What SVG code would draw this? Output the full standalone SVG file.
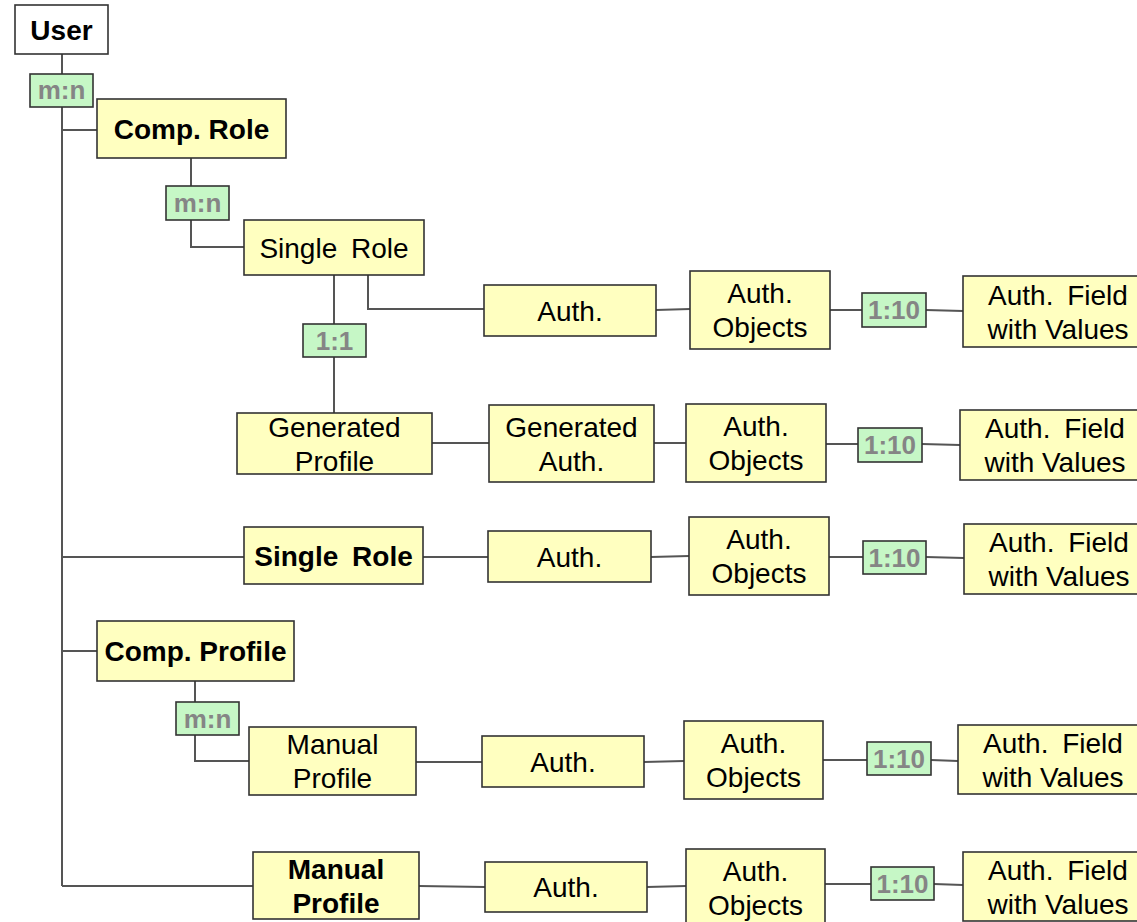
<svg xmlns="http://www.w3.org/2000/svg" width="1137" height="922" viewBox="0 0 1137 922">
  <style>
    .node { fill: #ffffc0; stroke: #333333; stroke-width: 1.6; }
    .root { fill: #ffffff; stroke: #333333; stroke-width: 1.6; }
    .rel { fill: #c6f7c6; stroke: #333333; stroke-width: 1.6; }
    .t { font-family: "Liberation Sans", Arial, sans-serif; font-size: 28px; fill: #000000; text-anchor: middle; }
    .b { font-weight: bold; }
    .wide { word-spacing: 6px; }
    .rt { font-family: "Liberation Sans", Arial, sans-serif; font-size: 26px; font-weight: bold; fill: #858585; text-anchor: middle; }
    .link { fill: none; stroke: #555555; stroke-width: 2; }
  </style>

  <!-- connectors -->
  <g id="connectors">
    <path class="link" d="M62,54 V74 M62,107 V886"/>
    <path class="link" d="M62,130 H97"/>
    <path class="link" d="M62,557 H244"/>
    <path class="link" d="M62,651 H97"/>
    <path class="link" d="M62,886 H253"/>
    <path class="link" d="M191,158 V186 M191,220 V247 H244"/>
    <path class="link" d="M334,275 V324 M334,357 V413"/>
    <path class="link" d="M368,275 V309 H484"/>
    <path class="link" d="M656,310 L690,309 M830,310 H862 M926,310 L963,311"/>
    <path class="link" d="M432,443 H489 M654,443 H686 M826,444 H858 M922,444 L960,445"/>
    <path class="link" d="M423,557 H488 M651,557 L689,556 M829,557 H863 M926,557 L964,558"/>
    <path class="link" d="M195,681 V702 M195,735 V761 H249"/>
    <path class="link" d="M416,762 H482 M644,762 L684,761 M823,760 H867 M931,760 L958,761"/>
    <path class="link" d="M419,886 L485,887 M647,887 L686,886 M825,884 H871 M934,884 L963,885"/>
  </g>

  <g id="user">
    <rect class="root" x="15" y="5" width="93" height="49"/>
    <text class="t b" x="61.5" y="39.5">User</text>
  </g>
  <g id="rel-user-comp-role">
    <rect class="rel" x="30" y="74" width="63" height="33"/>
    <text class="rt" x="61.5" y="99">m:n</text>
  </g>

  <g id="comp-role">
    <rect class="node" x="97" y="99" width="189" height="59"/>
    <text class="t b" x="191.5" y="138.5">Comp. Role</text>
  </g>
  <g id="rel-comp-role-single-role">
    <rect class="rel" x="166" y="186" width="63" height="34"/>
    <text class="rt" x="197.5" y="212">m:n</text>
  </g>

  <g id="single-role-1">
    <rect class="node" x="244" y="220" width="180" height="55"/>
    <text class="t wide" x="334" y="257.5">Single Role</text>
  </g>
  <g id="auth-1">
    <rect class="node" x="484" y="285" width="172" height="51"/>
    <text class="t" x="570" y="320.5">Auth.</text>
  </g>
  <g id="auth-objects-1">
    <rect class="node" x="690" y="271" width="140" height="78"/>
    <text class="t" x="760" y="303">Auth.</text>
    <text class="t" x="760" y="337">Objects</text>
  </g>
  <g id="rel-1">
    <rect class="rel" x="862" y="293" width="64" height="34"/>
    <text class="rt" x="894" y="319">1:10</text>
  </g>
  <g id="field-1">
    <rect class="node" x="963" y="276" width="190" height="71"/>
    <text class="t wide" x="1058" y="304.5">Auth. Field</text>
    <text class="t" x="1058" y="338.5">with Values</text>
  </g>

  <g id="rel-single-role-generated-profile">
    <rect class="rel" x="303" y="324" width="63" height="33"/>
    <text class="rt" x="334.5" y="349.5">1:1</text>
  </g>
  <g id="generated-profile">
    <rect class="node" x="237" y="413" width="195" height="61"/>
    <text class="t" x="334.5" y="436.5">Generated</text>
    <text class="t" x="334.5" y="470.5">Profile</text>
  </g>
  <g id="generated-auth">
    <rect class="node" x="489" y="405" width="165" height="77"/>
    <text class="t" x="571.5" y="436.5">Generated</text>
    <text class="t" x="571.5" y="470.5">Auth.</text>
  </g>
  <g id="auth-objects-2">
    <rect class="node" x="686" y="404" width="140" height="78"/>
    <text class="t" x="756" y="436">Auth.</text>
    <text class="t" x="756" y="470">Objects</text>
  </g>
  <g id="rel-2">
    <rect class="rel" x="858" y="428" width="64" height="34"/>
    <text class="rt" x="890" y="454">1:10</text>
  </g>
  <g id="field-2">
    <rect class="node" x="960" y="410" width="190" height="70"/>
    <text class="t wide" x="1055" y="438">Auth. Field</text>
    <text class="t" x="1055" y="472">with Values</text>
  </g>

  <g id="single-role-2">
    <rect class="node" x="244" y="527" width="179" height="57"/>
    <text class="t b wide" x="333.5" y="565.5">Single Role</text>
  </g>
  <g id="auth-3">
    <rect class="node" x="488" y="531" width="163" height="51"/>
    <text class="t" x="569.5" y="566.5">Auth.</text>
  </g>
  <g id="auth-objects-3">
    <rect class="node" x="689" y="517" width="140" height="78"/>
    <text class="t" x="759" y="549">Auth.</text>
    <text class="t" x="759" y="583">Objects</text>
  </g>
  <g id="rel-3">
    <rect class="rel" x="863" y="541" width="63" height="33"/>
    <text class="rt" x="894.5" y="566.5">1:10</text>
  </g>
  <g id="field-3">
    <rect class="node" x="964" y="524" width="190" height="70"/>
    <text class="t wide" x="1059" y="552">Auth. Field</text>
    <text class="t" x="1059" y="586">with Values</text>
  </g>

  <g id="comp-profile">
    <rect class="node" x="97" y="621" width="197" height="60"/>
    <text class="t b" x="195.5" y="661">Comp. Profile</text>
  </g>
  <g id="rel-comp-profile-manual-profile">
    <rect class="rel" x="176" y="702" width="63" height="33"/>
    <text class="rt" x="207.5" y="727.5">m:n</text>
  </g>
  <g id="manual-profile-1">
    <rect class="node" x="249" y="727" width="167" height="68"/>
    <text class="t" x="332.5" y="754">Manual</text>
    <text class="t" x="332.5" y="788">Profile</text>
  </g>
  <g id="auth-4">
    <rect class="node" x="482" y="736" width="162" height="51"/>
    <text class="t" x="563" y="771.5">Auth.</text>
  </g>
  <g id="auth-objects-4">
    <rect class="node" x="684" y="721" width="139" height="78"/>
    <text class="t" x="753.5" y="753">Auth.</text>
    <text class="t" x="753.5" y="787">Objects</text>
  </g>
  <g id="rel-4">
    <rect class="rel" x="867" y="742" width="64" height="33"/>
    <text class="rt" x="899" y="767.5">1:10</text>
  </g>
  <g id="field-4">
    <rect class="node" x="958" y="725" width="190" height="69"/>
    <text class="t wide" x="1053" y="752.5">Auth. Field</text>
    <text class="t" x="1053" y="786.5">with Values</text>
  </g>

  <g id="manual-profile-2">
    <rect class="node" x="253" y="852" width="166" height="67"/>
    <text class="t b" x="336" y="878.5">Manual</text>
    <text class="t b" x="336" y="912.5">Profile</text>
  </g>
  <g id="auth-5">
    <rect class="node" x="485" y="862" width="162" height="50"/>
    <text class="t" x="566" y="897">Auth.</text>
  </g>
  <g id="auth-objects-5">
    <rect class="node" x="686" y="849" width="139" height="78"/>
    <text class="t" x="755.5" y="881">Auth.</text>
    <text class="t" x="755.5" y="915">Objects</text>
  </g>
  <g id="rel-5">
    <rect class="rel" x="871" y="867" width="63" height="33"/>
    <text class="rt" x="902.5" y="892.5">1:10</text>
  </g>
  <g id="field-5">
    <rect class="node" x="963" y="852" width="190" height="69"/>
    <text class="t wide" x="1058" y="879.5">Auth. Field</text>
    <text class="t" x="1058" y="913.5">with Values</text>
  </g>
</svg>
